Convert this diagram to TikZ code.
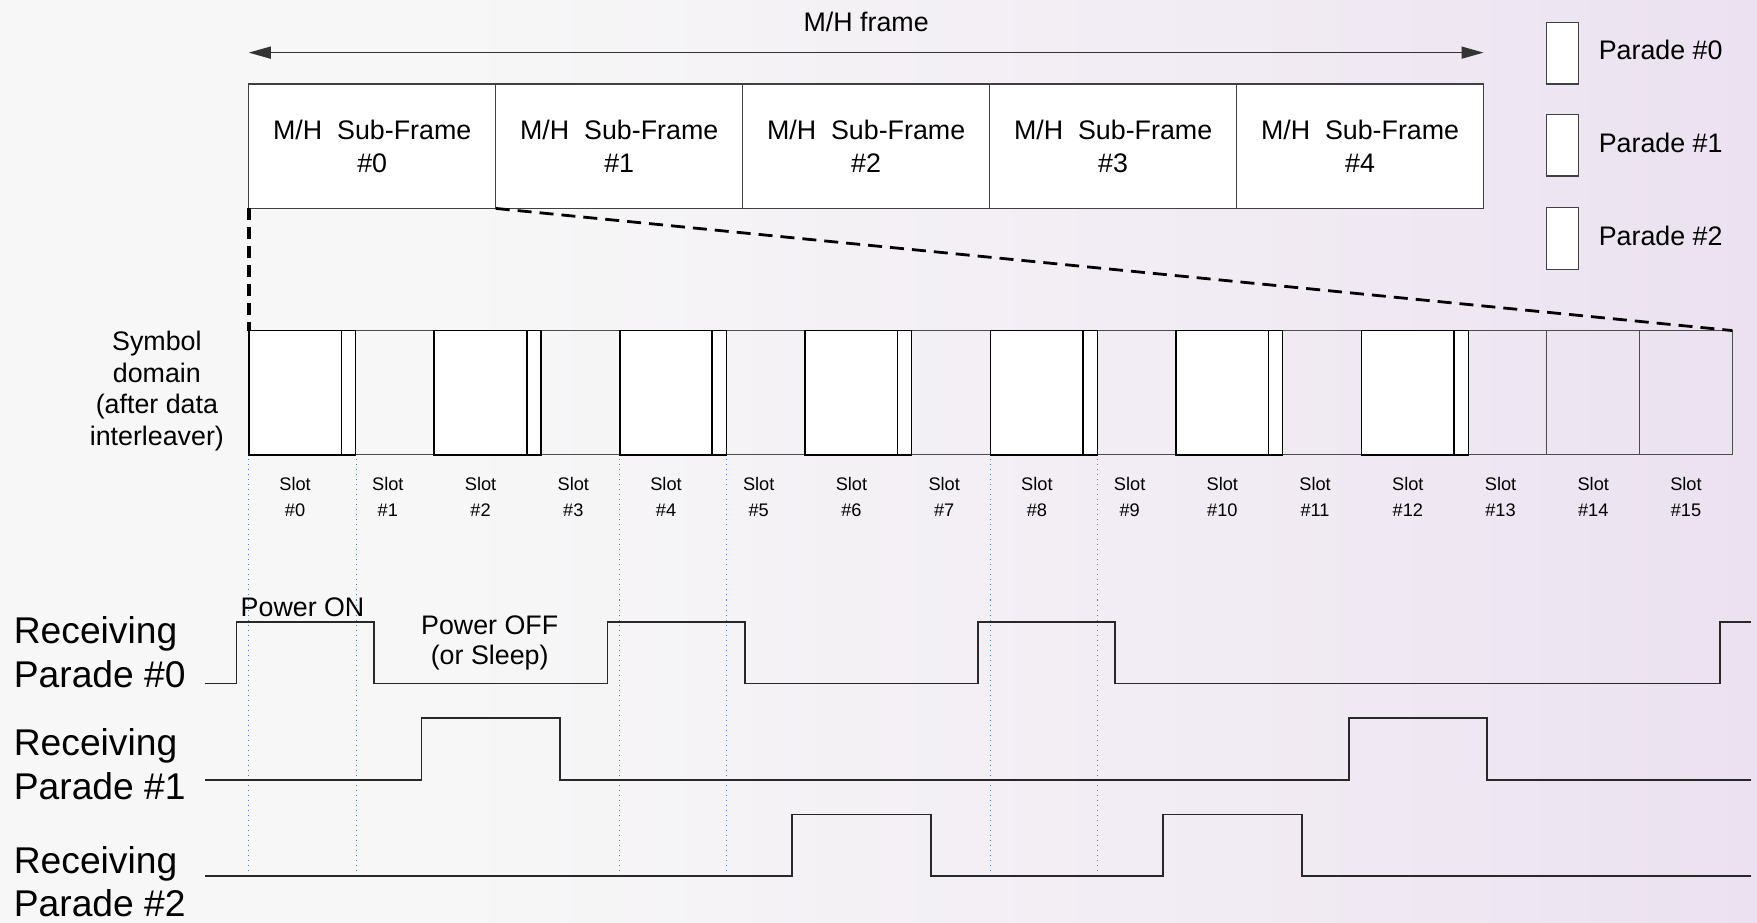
\documentclass[tikz,border=0pt]{standalone}
\usepackage{fontspec}
\setmainfont{Liberation Sans}
\usepackage{tikz}
\usetikzlibrary{arrows.meta,positioning}

\definecolor{bgleft}{RGB}{247,247,247}
\definecolor{bgmid}{RGB}{240,233,243}
\definecolor{bgright}{RGB}{224,207,235}
\definecolor{guideblue}{RGB}{60,130,225}
\definecolor{waveline}{RGB}{40,40,40}
\pgfdeclarehorizontalshading{bgshade}{100bp}{color(0bp)=(bgleft); color(38bp)=(bgleft); color(64bp)=(bgmid); color(100bp)=(bgright)}

\begin{document}
\begin{tikzpicture}[
    x=0.56pt, y=-0.56pt,
    node distance=0pt,
    subframe/.style={
        rectangle,
        draw=black!75,
        line width=0.6pt,
        fill=white,
        outer sep=0pt,
        minimum width=123.42pt,
        minimum height=62.16pt,
        align=center,
        font=\fontsize{13.4}{16.4}\selectfont
    },
    slotbox/.style={
        rectangle,
        draw=black!70,
        line width=0.5pt,
        outer sep=0pt,
        inner sep=0pt,
        minimum width=46.34pt,
        minimum height=62.16pt,
        anchor=north west
    },
    paradebox/.style={
        rectangle,
        draw=black,
        line width=0.9pt,
        fill=white,
        outer sep=0pt,
        inner sep=0pt,
        minimum width=46.34pt,
        minimum height=62.16pt,
        anchor=north west
    },
    stripbox/.style={
        paradebox,
        line width=0.6pt,
        minimum width=7pt
    },
    legbox/.style={
        rectangle,
        draw=black!75,
        line width=0.6pt,
        fill=white,
        inner sep=0pt,
        minimum width=16.24pt,
        minimum height=30.8pt
    },
    plain/.style={
        inner sep=0pt,
        align=center,
        text=black,
        font=\fontsize{13.4}{15.7}\selectfont
    },
    slotlabel/.style={
        inner sep=0pt,
        align=center,
        font=\fontsize{9.1}{12.9}\selectfont
    },
    rxlabel/.style={
        inner sep=0pt,
        anchor=west,
        align=left,
        font=\fontsize{18.6}{21.8}\selectfont
    },
    framearrow/.style={
        {Triangle[length=11pt,width=6pt]}-{Triangle[length=11pt,width=6pt]},
        line width=0.7pt,
        draw=black!80
    },
    zoomline/.style={
        dashed,
        dash pattern=on 7pt off 4pt,
        line width=1.4pt
    },
    guide/.style={
        guideblue,
        dotted,
        line width=0.5pt
    },
    wave/.style={
        waveline,
        line width=0.8pt
    }
]

% ---------------- BACKGROUND ----------------

\shade[shading=bgshade] (0,0) rectangle (1568,823);
\useasboundingbox (0,0) rectangle (1568,823);

% ---------------- M/H FRAME ----------------

\node[subframe, anchor=north west] (sf0) at (222,75)
    {M/H~~Sub-Frame\\\#0};

\node[subframe, right=of sf0] (sf1)
    {M/H~~Sub-Frame\\\#1};

\node[subframe, right=of sf1] (sf2)
    {M/H~~Sub-Frame\\\#2};

\node[subframe, right=of sf2] (sf3)
    {M/H~~Sub-Frame\\\#3};

\node[subframe, right=of sf3] (sf4)
    {M/H~~Sub-Frame\\\#4};

\coordinate[above=15.7pt of sf0.north west] (frameL);
\coordinate[above=15.7pt of sf4.north east] (frameR);

\draw[framearrow] (frameL) -- node[plain, above=10pt] (mhframe) {M/H frame} (frameR);

% ---------------- LEGEND ----------------

\node[legbox] (leg0) at (1394.5,47.5) {};
\node[legbox] (leg1) at (1394.5,129.5) {};
\node[legbox] (leg2) at (1394.5,213) {};

\node[plain, right=9.5pt of leg0, yshift=1.5pt] {Parade \#0};
\node[plain, right=9.5pt of leg1, yshift=1pt] {Parade \#1};
\node[plain, right=9.5pt of leg2, yshift=1.5pt] {Parade \#2};

% ---------------- SYMBOL DOMAIN ----------------

\foreach \i in {0,...,15} {
    \node[slotbox] (s\i) at (222+82.75*\i,295) {};
    \node[slotlabel, below=11pt of s\i] {Slot\\\#\i};
}

\foreach \i in {0,2,...,12} {
    \node[paradebox] (p\i) at (s\i.north west) {};
    \node[stripbox] (q\i) at (p\i.north east) {};
}

\node[plain] (symdomain) at (140,349)
    {Symbol\\domain\\(after data\\interleaver)};

\draw[zoomline, line width=2.2pt, dash pattern=on 6pt off 3.5pt] (sf0.south west) -- (s0.north west);
\draw[zoomline] (sf1.south west) -- (s15.north east);

% ---------------- RECEIVING ----------------

\foreach \gx in {222,317.75,553,648.75,884,979.75}
    \draw[guide] (\gx,410) -- (\gx,782);

\node[rxlabel] (rx0) at (12,582) {Receiving\\Parade \#0};
\node[rxlabel] (rx1) at (12,682) {Receiving\\Parade \#1};
\node[rxlabel] (rx2) at (12,787) {Receiving\\Parade \#2};

% parade #0
\draw[wave] (183,610) -- (211,610) -- (211,555) -- (334,555) -- (334,610)
    -- (542,610) -- (542,555) -- (665,555) -- (665,610)
    -- (873,610) -- (873,555) -- (995,555) -- (995,610)
    -- (1535,610) -- (1535,555) -- (1563,555);

% parade #1
\draw[wave] (183,696) -- (376,696) -- (376,641) -- (500,641) -- (500,696)
    -- (1204,696) -- (1204,641) -- (1327,641) -- (1327,696) -- (1563,696);

% parade #2
\draw[wave] (183,782) -- (707,782) -- (707,727) -- (831,727) -- (831,782)
    -- (1038,782) -- (1038,727) -- (1162,727) -- (1162,782) -- (1563,782);

\node[plain] (pwron) at (270,542) {Power ON};
\node[plain, font=\fontsize{13.4}{15.2}\selectfont] (pwroff) at (437,573.5)
    {Power OFF\\(or Sleep)};

\end{tikzpicture}
\end{document}
